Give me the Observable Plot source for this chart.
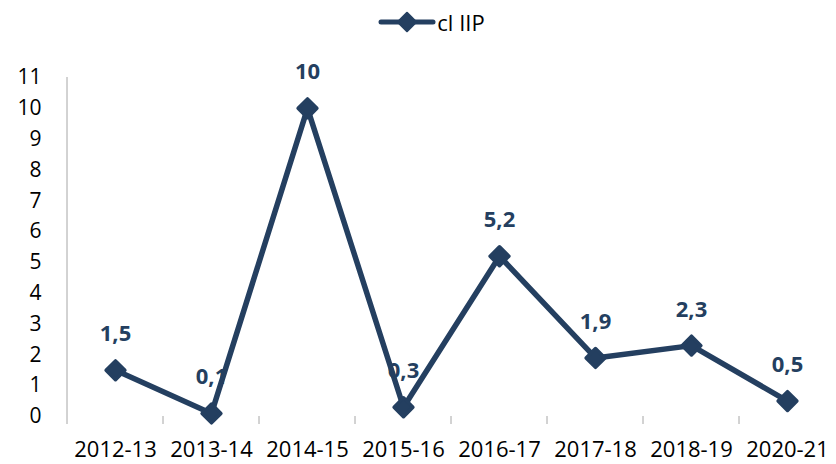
<!DOCTYPE html>
<html><head><meta charset="utf-8">
<script src="https://cdn.jsdelivr.net/npm/d3@7"></script>
<script src="https://cdn.jsdelivr.net/npm/@observablehq/plot@0.6"></script>
<style>
body{margin:0;background:#fff;}
#wrap{position:relative;width:836px;height:464px;font-family:"Open Sans",Calibri,sans-serif;}
#legend{position:absolute;top:4px;left:0;width:836px;text-align:center;font-size:22px;color:#000;padding-left:26px;box-sizing:border-box;}
#legend svg{vertical-align:middle;}
</style></head>
<body><div id="wrap"><div id="legend"></div></div>
<script>
const years = ["2012-13","2013-14","2014-15","2015-16","2016-17","2017-18","2018-19","2020-21"];
const values = [1.5,0.1,10,0.3,5.2,1.9,2.3,0.5];
const labels = ["1,5","0,1","10","0,3","5,2","1,9","2,3","0,5"];
const yTicks = [0,1,2,3,4,5,6,7,8,9,10,11];
const seriesName = "cl IIP";
const color = "#243F60";
const data = years.map((y,i)=>({year:y,value:values[i],label:labels[i]}));

const chart = Plot.plot({
  width: 836, height: 464,
  marginTop: 77, marginBottom: 48, marginLeft: 66, marginRight: 0,
  style:{fontFamily:'"Open Sans",Calibri,sans-serif', background:"transparent"},
  x:{type:"point", domain: years, padding:0.5, axis:null, label:null},
  y:{domain:[0,11], axis:null, label:null},
  marks:[
    Plot.ruleY(yTicks,{x1:58, x2:836, stroke:"#a6a6a6", strokeWidth:1, x:null}),
    Plot.axisY({ticks:yTicks, tickSize:0, tickPadding:25, fontSize:21, fill:"#000", label:null, tickFormat:d=>String(d)}),
    Plot.axisX({tickSize:0, tickPadding:25, fontSize:22, fill:"#000", label:null, ariaLabel:"xlabels"}),
    Plot.line(data,{x:"year", y:"value", stroke:color, strokeWidth:5.5, strokeLinejoin:"round"}),
    Plot.dot(data,{x:"year", y:"value", symbol:"square", rotate:45, r:7.5, fill:color, stroke:color, strokeWidth:3.5, strokeLinejoin:"round"}),
    Plot.text(data,{x:"year", y:"value", text:"label", dy:-36, fill:color, fontWeight:"bold", fontSize:22})
  ]
});
document.getElementById("wrap").appendChild(chart);
chart.style.position="absolute"; chart.style.top="0"; chart.style.left="0";
d3.select(chart).selectAll('g[aria-label="xlabels"]').style("letter-spacing","0.6px");

// axis line & band-boundary ticks via scales
const xs = chart.scale("x"), ys = chart.scale("y");
const svg = d3.select(chart);
const step = xs.apply(years[1]) - xs.apply(years[0]);
const left = xs.apply(years[0]) - step/2;
const y0 = ys.apply(0), yTop = ys.apply(11);
const g = svg.insert("g", ":first-child").attr("stroke","#a6a6a6").attr("stroke-width",1);
g.append("line").attr("x1",left).attr("x2",left).attr("y1",yTop).attr("y2",y0+8);
years.forEach((y,i)=>{ const bx = left + step*(i+1); if(i<years.length-1) g.append("line").attr("x1",bx).attr("x2",bx).attr("y1",y0).attr("y2",y0+8); });

// legend
const lg = d3.select("#legend");
const ls = lg.append("svg").attr("width",60).attr("height",32);
ls.append("line").attr("x1",4).attr("x2",56).attr("y1",16).attr("y2",16).attr("stroke",color).attr("stroke-width",5).attr("stroke-linecap","round");
ls.append("path").attr("d",d3.symbol(d3.symbolSquare,170)()).attr("transform","translate(30,16) rotate(45)").attr("fill",color).attr("stroke",color).attr("stroke-width",2).attr("stroke-linejoin","round");
lg.append("span").text(seriesName).style("vertical-align","middle");
</script></body></html>
